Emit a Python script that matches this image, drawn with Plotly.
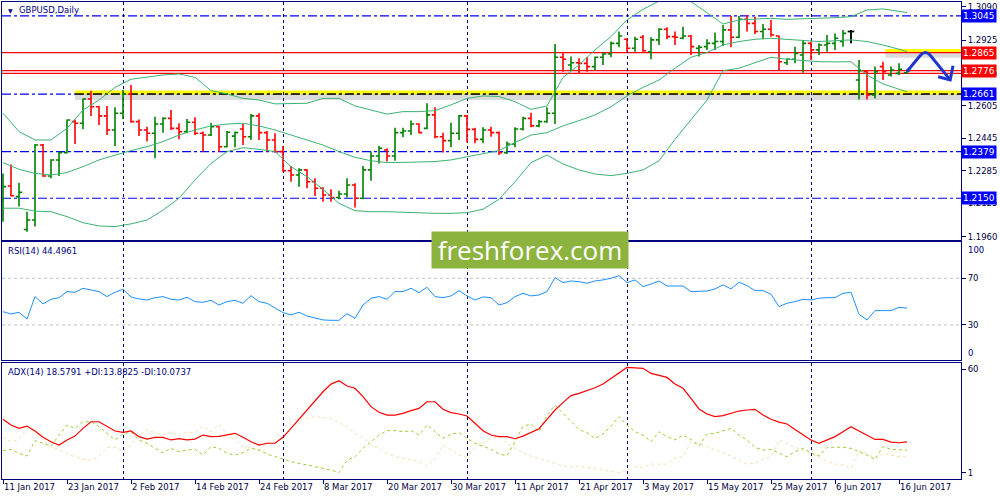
import plotly.graph_objects as go
from plotly.subplots import make_subplots

# ---- price bars, GBPUSD daily, 11 Jan 2017 .. 19 Jun 2017 ----
opens = [1.2141, 1.2210, 1.2158, 1.1997, 1.2043, 1.2411, 1.2259, 1.2338, 1.2374, 1.2526,
         1.2518, 1.2637, 1.2599, 1.2554, 1.2485, 1.2567, 1.2660, 1.2526, 1.2485, 1.2469,
         1.2514, 1.2542, 1.2493, 1.2477, 1.2523, 1.2469, 1.2460, 1.2501, 1.2403, 1.2455,
         1.2490, 1.2452, 1.2554, 1.2472, 1.2436, 1.2379, 1.2285, 1.2264, 1.2289, 1.2231,
         1.2199, 1.2166, 1.2154, 1.2171, 1.2215, 1.2150, 1.2289, 1.2357, 1.2387, 1.2357,
         1.2472, 1.2480, 1.2514, 1.2493, 1.2559, 1.2452, 1.2433, 1.2469, 1.2554, 1.2488,
         1.2439, 1.2485, 1.2472, 1.2374, 1.2416, 1.2490, 1.2542, 1.2505, 1.2526, 1.2567,
         1.2842, 1.2804, 1.2815, 1.2812, 1.2796, 1.2842, 1.2858, 1.2910, 1.2930, 1.2886,
         1.2940, 1.2869, 1.2927, 1.2979, 1.2943, 1.2935, 1.2946, 1.2886, 1.2894, 1.2910,
         1.2919, 1.2976, 1.2940, 1.3028, 1.3008, 1.2968, 1.2979, 1.2946, 1.2815, 1.2832,
         1.2853, 1.2910, 1.2878, 1.2902, 1.2910, 1.2919, 1.2968, 1.2730, 1.2771, 1.2657,
         1.2796, 1.2755, 1.2763, 1.2766]
highs = [1.2272, 1.2316, 1.2226, 1.2084, 1.2416, 1.2416, 1.2341, 1.2379, 1.2537, 1.2537,
         1.2640, 1.2678, 1.2603, 1.2603, 1.2596, 1.2681, 1.2706, 1.2537, 1.2501, 1.2550,
         1.2547, 1.2583, 1.2518, 1.2539, 1.2547, 1.2477, 1.2521, 1.2505, 1.2480, 1.2477,
         1.2514, 1.2563, 1.2567, 1.2480, 1.2469, 1.2406, 1.2308, 1.2297, 1.2292, 1.2248,
         1.2204, 1.2194, 1.2187, 1.2248, 1.2223, 1.2308, 1.2379, 1.2406, 1.2395, 1.2496,
         1.2496, 1.2531, 1.2518, 1.2616, 1.2596, 1.2472, 1.2521, 1.2559, 1.2559, 1.2496,
         1.2498, 1.2501, 1.2477, 1.2428, 1.2498, 1.2550, 1.2570, 1.2534, 1.2596, 1.2907,
         1.2865, 1.2845, 1.2837, 1.2842, 1.2845, 1.2865, 1.2919, 1.2968, 1.2935, 1.2943,
         1.2951, 1.2940, 1.2984, 1.2989, 1.2968, 1.2992, 1.2951, 1.2902, 1.2930, 1.2963,
         1.3000, 1.3044, 1.3044, 1.3049, 1.3041, 1.3005, 1.3025, 1.2948, 1.2837, 1.2894,
         1.2927, 1.2919, 1.2910, 1.2951, 1.2959, 1.2976, 1.2976, 1.2829, 1.2776, 1.2796,
         1.2820, 1.2796, 1.2812, 1.2783]
lows = [1.2035, 1.2158, 1.2109, 1.1986, 1.2011, 1.2256, 1.2248, 1.2259, 1.2370, 1.2416,
        1.2488, 1.2554, 1.2510, 1.2460, 1.2406, 1.2539, 1.2521, 1.2456, 1.2428, 1.2346,
        1.2472, 1.2485, 1.2439, 1.2469, 1.2460, 1.2379, 1.2456, 1.2379, 1.2400, 1.2400,
        1.2411, 1.2436, 1.2436, 1.2379, 1.2374, 1.2280, 1.2231, 1.2207, 1.2199, 1.2161,
        1.2133, 1.2133, 1.2145, 1.2154, 1.2105, 1.2145, 1.2236, 1.2321, 1.2330, 1.2334,
        1.2449, 1.2460, 1.2469, 1.2488, 1.2444, 1.2375, 1.2400, 1.2436, 1.2423, 1.2420,
        1.2420, 1.2452, 1.2362, 1.2367, 1.2400, 1.2482, 1.2498, 1.2498, 1.2521, 1.2514,
        1.2771, 1.2776, 1.2760, 1.2771, 1.2779, 1.2804, 1.2842, 1.2891, 1.2869, 1.2869,
        1.2869, 1.2832, 1.2902, 1.2930, 1.2902, 1.2930, 1.2853, 1.2845, 1.2878, 1.2878,
        1.2897, 1.2891, 1.2935, 1.2968, 1.2956, 1.2930, 1.2943, 1.2779, 1.2804, 1.2812,
        1.2766, 1.2829, 1.2853, 1.2869, 1.2878, 1.2894, 1.2910, 1.2635, 1.2635, 1.2640,
        1.2730, 1.2747, 1.2755, 1.2760]
closes = [1.2207, 1.2162, 1.2179, 1.2043, 1.2411, 1.2259, 1.2338, 1.2374, 1.2534, 1.2518,
          1.2637, 1.2599, 1.2554, 1.2485, 1.2567, 1.2660, 1.2526, 1.2485, 1.2469, 1.2514,
          1.2542, 1.2493, 1.2477, 1.2523, 1.2469, 1.2460, 1.2501, 1.2403, 1.2474, 1.2472,
          1.2452, 1.2554, 1.2472, 1.2436, 1.2379, 1.2285, 1.2264, 1.2289, 1.2231, 1.2199,
          1.2166, 1.2154, 1.2171, 1.2215, 1.2150, 1.2289, 1.2357, 1.2395, 1.2357, 1.2472,
          1.2480, 1.2514, 1.2472, 1.2559, 1.2452, 1.2433, 1.2469, 1.2554, 1.2488, 1.2439,
          1.2485, 1.2472, 1.2374, 1.2416, 1.2490, 1.2542, 1.2505, 1.2526, 1.2567, 1.2842,
          1.2832, 1.2815, 1.2812, 1.2796, 1.2842, 1.2858, 1.2910, 1.2946, 1.2886, 1.2930,
          1.2874, 1.2927, 1.2979, 1.2943, 1.2940, 1.2946, 1.2894, 1.2891, 1.2910, 1.2919,
          1.2976, 1.2940, 1.3028, 1.3008, 1.2968, 1.2979, 1.2951, 1.2820, 1.2832, 1.2861,
          1.2910, 1.2878, 1.2902, 1.2910, 1.2935, 1.2959, 1.2968, 1.2776, 1.2657, 1.2771,
          1.2771, 1.2779, 1.2783, 1.2776]
doji_bars = [106]

# ---- Bollinger bands (read every 2nd bar + last) ----
bb_idx = list(range(0, 113, 2)) + [113]
bb_upper = [1.2567, 1.2477, 1.2436, 1.2436, 1.2493, 1.2583, 1.2632, 1.2694, 1.2734, 1.2743,
            1.2755, 1.2760, 1.2743, 1.2678, 1.2662, 1.2640, 1.2632, 1.2613, 1.2613, 1.2616,
            1.2640, 1.2640, 1.2603, 1.2583, 1.2563, 1.2575, 1.2575, 1.2580, 1.2608, 1.2640,
            1.2652, 1.2649, 1.2624, 1.2586, 1.2603, 1.2743, 1.2804, 1.2878, 1.2943, 1.3025,
            1.3077, 1.3118, 1.3145, 1.3115, 1.3058, 1.3005, 1.3025, 1.3030, 1.3033, 1.3028,
            1.3030, 1.3033, 1.3036, 1.3041, 1.3074, 1.3079, 1.3069, 1.3061]
bb_mid = [1.2325, 1.2292, 1.2272, 1.2264, 1.2276, 1.2305, 1.2338, 1.2362, 1.2384, 1.2403,
          1.2428, 1.2460, 1.2485, 1.2505, 1.2514, 1.2518, 1.2505, 1.2485, 1.2460, 1.2436,
          1.2411, 1.2379, 1.2351, 1.2334, 1.2325, 1.2326, 1.2328, 1.2330, 1.2338, 1.2354,
          1.2367, 1.2384, 1.2423, 1.2460, 1.2472, 1.2505, 1.2531, 1.2559, 1.2599, 1.2652,
          1.2694, 1.2730, 1.2788, 1.2842, 1.2865, 1.2902, 1.2919, 1.2930, 1.2935, 1.2930,
          1.2923, 1.2919, 1.2923, 1.2927, 1.2919, 1.2902, 1.2881, 1.2869]
bb_lower = [1.2101, 1.2101, 1.2087, 1.2084, 1.2060, 1.2030, 1.2014, 1.2011, 1.2024, 1.2043,
            1.2092, 1.2150, 1.2240, 1.2321, 1.2379, 1.2398, 1.2390, 1.2379, 1.2305, 1.2256,
            1.2194, 1.2125, 1.2089, 1.2084, 1.2084, 1.2081, 1.2079, 1.2076, 1.2076, 1.2079,
            1.2096, 1.2145, 1.2231, 1.2325, 1.2362, 1.2318, 1.2289, 1.2269, 1.2261, 1.2272,
            1.2289, 1.2334, 1.2439, 1.2534, 1.2632, 1.2776, 1.2788, 1.2815, 1.2842, 1.2832,
            1.2825, 1.2820, 1.2819, 1.2820, 1.2755, 1.2711, 1.2685, 1.2673]

# ---- RSI(14) ----
rsi = [41.4, 39.4, 40.9, 35.1, 54.3, 48.0, 52.0, 53.4, 58.6, 58.0,
       61.4, 60.0, 58.6, 54.3, 58.0, 60.6, 54.0, 52.3, 51.4, 53.4,
       54.3, 52.0, 51.4, 53.7, 50.0, 49.4, 51.1, 47.1, 50.0, 51.1,
       48.6, 55.1, 50.0, 48.6, 44.9, 40.6, 38.6, 40.9, 37.7, 36.3,
       34.3, 34.0, 34.0, 39.7, 35.7, 47.1, 52.9, 54.3, 52.0, 58.6,
       58.6, 61.4, 57.7, 62.3, 54.3, 53.4, 54.9, 59.4, 54.9, 51.4,
       54.0, 53.4, 47.1, 49.1, 54.3, 57.1, 54.9, 55.7, 58.6, 70.6,
       66.3, 67.7, 67.1, 65.7, 67.7, 68.6, 70.0, 72.3, 66.3, 68.6,
       62.9, 65.1, 67.7, 63.4, 63.4, 63.4, 58.6, 58.6, 59.1, 60.9,
       64.3, 60.9, 66.6, 63.7, 59.4, 59.4, 56.3, 45.7, 48.6, 50.0,
       52.0, 51.4, 52.9, 53.4, 53.4, 57.1, 58.0, 39.1, 34.3, 42.3,
       42.3, 42.3, 45.1, 44.5]

# ---- ADX(14) ----
adx = [31.5, 28.2, 26.3, 27.6, 24.8, 21.2, 18.7, 16.8, 19.7, 21.9,
       26.3, 30.1, 30.1, 27.6, 24.8, 24.0, 24.8, 21.6, 20.2, 21.2,
       21.2, 19.7, 20.4, 19.7, 20.2, 22.5, 21.6, 21.7, 22.5, 23.5,
       21.2, 18.7, 16.8, 17.8, 17.8, 21.2, 26.3, 31.5, 36.8, 42.1,
       47.2, 51.6, 53.5, 50.5, 49.2, 44.4, 38.7, 35.5, 33.9, 33.9,
       34.9, 36.4, 37.7, 41.5, 41.5, 37.2, 35.3, 34.5, 33.4, 29.2,
       25.0, 22.5, 21.6, 21.6, 20.4, 21.9, 24.0, 26.1, 31.5, 36.8,
       41.0, 45.0, 46.3, 47.8, 49.5, 51.6, 54.9, 57.7, 61.1, 60.9,
       60.6, 57.7, 56.4, 55.4, 51.6, 49.2, 43.4, 37.4, 34.5, 33.0,
       33.6, 34.9, 36.2, 36.8, 37.2, 33.9, 31.5, 29.9, 28.8, 25.7,
       22.5, 19.7, 17.8, 19.7, 21.6, 24.4, 27.3, 24.8, 22.5, 20.0,
       20.0, 18.5, 18.1, 18.6]
plus_di = [13.6, 14.3, 12.0, 10.5, 19.3, 17.8, 16.2, 22.5, 28.2, 26.3,
           30.1, 30.1, 27.3, 23.5, 19.7, 23.1, 24.4, 19.7, 17.8, 14.9,
           12.4, 14.9, 13.0, 13.9, 14.3, 11.1, 15.9, 14.9, 12.0, 11.1,
           12.4, 14.9, 13.9, 11.7, 10.1, 8.6, 7.3, 6.3, 5.2, 4.4,
           3.5, 2.5, 1.0, 8.2, 10.1, 14.9, 18.7, 22.5, 25.0, 25.0,
           24.4, 25.0, 22.5, 28.2, 24.4, 20.6, 23.1, 23.8, 20.6, 17.8,
           16.2, 14.3, 11.7, 10.7, 18.7, 27.6, 28.8, 24.4, 33.9, 39.6,
           34.9, 30.1, 25.7, 23.8, 20.6, 23.1, 27.6, 33.0, 28.2, 24.4,
           22.5, 18.7, 24.4, 21.6, 19.7, 22.5, 20.0, 16.2, 23.1, 23.5,
           25.0, 26.3, 22.5, 19.7, 15.5, 13.9, 14.3, 12.0, 10.1, 13.0,
           14.9, 12.4, 10.5, 15.5, 15.5, 15.5, 14.9, 13.0, 11.1, 8.6,
           15.9, 14.3, 14.3, 13.9]
minus_di = [21.2, 18.7, 20.0, 26.3, 24.8, 19.7, 15.5, 14.3, 11.7, 10.1,
            8.6, 8.2, 10.1, 15.5, 15.5, 13.0, 16.8, 22.5, 25.4, 23.8,
            22.5, 24.4, 21.9, 24.4, 23.8, 27.6, 24.4, 28.2, 23.1, 19.7,
            15.9, 15.5, 13.9, 17.8, 20.0, 26.3, 30.1, 32.6, 32.0, 33.0,
            32.6, 32.0, 29.5, 27.3, 23.5, 21.2, 16.8, 14.9, 12.0, 10.1,
            9.2, 8.2, 7.3, 4.8, 8.6, 16.8, 13.9, 11.1, 9.8, 15.5,
            17.8, 20.6, 21.6, 17.8, 14.9, 12.4, 10.5, 9.2, 7.9, 6.3,
            4.8, 4.4, 4.8, 4.1, 3.3, 2.5, 1.6, 1.0, 2.2, 4.4,
            4.1, 5.9, 5.9, 5.9, 9.2, 10.1, 18.7, 17.8, 15.9, 14.3,
            12.4, 10.5, 8.2, 5.9, 6.3, 8.6, 10.1, 19.7, 17.4, 15.5,
            13.9, 11.7, 10.1, 7.3, 5.9, 5.4, 3.5, 13.6, 12.0, 9.2,
            12.0, 11.1, 10.1, 10.1]

# ---- axis labels / levels ----
date_idx = list(range(0, 113, 8))
date_labels = ["11 Jan 2017", "23 Jan 2017", "2 Feb 2017", "14 Feb 2017", "24 Feb 2017",
               "8 Mar 2017", "20 Mar 2017", "30 Mar 2017", "11 Apr 2017", "21 Apr 2017",
               "3 May 2017", "15 May 2017", "25 May 2017", "6 Jun 2017", "16 Jun 2017"]
month_starts = [15, 35, 58, 78, 101]
price_ticks = [1.3090, 1.2925, 1.2765, 1.2605, 1.2445, 1.2285, 1.2125, 1.1960]
blue_levels = [1.3045, 1.2661, 1.2379, 1.2150]
red_levels = [1.2865, 1.2776]
red_level_2 = 1.2763

NAVY = "#000080"
FONT = "DejaVu Sans"
bars = list(range(len(closes)))
X_RANGE = [-0.125, 119.75]

fig = make_subplots(rows=3, cols=1, shared_xaxes=True, vertical_spacing=0.005)

fig.add_trace(go.Ohlc(x=bars, open=opens, high=highs, low=lows, close=closes,
                      increasing=dict(line=dict(color="#008000", width=1.6)),
                      decreasing=dict(line=dict(color="#ff0000", width=1.6)),
                      tickwidth=0.4, hoverinfo="skip", showlegend=False), row=1, col=1)
fig.add_trace(go.Ohlc(x=[bars[i] for i in doji_bars],
                      open=[opens[i] for i in doji_bars], high=[highs[i] for i in doji_bars],
                      low=[lows[i] for i in doji_bars], close=[closes[i] for i in doji_bars],
                      increasing=dict(line=dict(color="black", width=1.6)),
                      decreasing=dict(line=dict(color="black", width=1.6)),
                      tickwidth=0.4, hoverinfo="skip", showlegend=False), row=1, col=1)

for band in (bb_upper, bb_mid, bb_lower):
    fig.add_trace(go.Scatter(x=bb_idx, y=band, mode="lines", showlegend=False,
                             line=dict(color="#3cb371", width=1), hoverinfo="skip"), row=1, col=1)

fig.add_trace(go.Scatter(x=bars, y=rsi, mode="lines", showlegend=False,
                         line=dict(color="#1e90ff", width=1), hoverinfo="skip"), row=2, col=1)

fig.add_trace(go.Scatter(x=bars, y=minus_di, mode="lines", showlegend=False,
                         line=dict(color="#f5deb3", width=1, dash="3px,3px"), hoverinfo="skip"), row=3, col=1)
fig.add_trace(go.Scatter(x=bars, y=plus_di, mode="lines", showlegend=False,
                         line=dict(color="#9acd32", width=1, dash="3px,3px"), hoverinfo="skip"), row=3, col=1)
fig.add_trace(go.Scatter(x=bars, y=adx, mode="lines", showlegend=False,
                         line=dict(color="#ff0000", width=1.2), hoverinfo="skip"), row=3, col=1)

# horizontal levels
shapes = []
for lv in blue_levels:
    shapes.append(dict(type="line", xref="x", yref="y", x0=X_RANGE[0], x1=X_RANGE[1], y0=lv, y1=lv,
                       line=dict(color="#0000ff", width=1.2, dash="dashdot"), layer="below"))
# yellow highlight at 1.2661 with shadow
shapes.append(dict(type="line", xref="x", yref="y", x0=9, x1=X_RANGE[1], y0=1.2647, y1=1.2647,
                   line=dict(color="rgba(90,90,90,0.22)", width=6), layer="below"))
shapes.append(dict(type="line", xref="x", yref="y", x0=9, x1=X_RANGE[1], y0=1.2669, y1=1.2669,
                   line=dict(color="#ffff00", width=4), layer="below"))
shapes.append(dict(type="line", xref="x", yref="y", x0=9, x1=X_RANGE[1], y0=1.2661, y1=1.2661,
                   line=dict(color="black", width=1.5, dash="dashdot"), layer="below"))
# yellow highlight at 1.2865
shapes.append(dict(type="line", xref="x", yref="y", x0=110.3, x1=X_RANGE[1], y0=1.2852, y1=1.2852,
                   line=dict(color="rgba(90,90,90,0.22)", width=5), layer="below"))
shapes.append(dict(type="line", xref="x", yref="y", x0=110.3, x1=X_RANGE[1], y0=1.2873, y1=1.2873,
                   line=dict(color="#ffff00", width=4), layer="below"))
for lv in red_levels + [red_level_2]:
    shapes.append(dict(type="line", xref="x", yref="y", x0=X_RANGE[0], x1=X_RANGE[1], y0=lv, y1=lv,
                       line=dict(color="#ff0000", width=1.3), layer="below"))
# RSI levels
for lv in (70, 30):
    shapes.append(dict(type="line", xref="x2", yref="y2", x0=X_RANGE[0], x1=X_RANGE[1], y0=lv, y1=lv,
                       line=dict(color="#c0c0c0", width=1, dash="3px,3px"), layer="below"))
# forecast arrow
shapes.append(dict(type="path", xref="x", yref="y",
                   path="M 113.0,1.2772 L 114.6,1.2848 Q 115.25,1.2880 115.9,1.2852 L 118.4,1.2731",
                   line=dict(color="#1f35d0", width=3)))
shapes.append(dict(type="path", xref="x", yref="y",
                   path="M 116.9,1.2746 L 118.4,1.2731 L 118.75,1.2800",
                   line=dict(color="#1f35d0", width=3)))

annotations = []
box_style = dict(xref="paper", x=1, xanchor="left", xshift=0, yref="y", showarrow=False,
                 font=dict(family=FONT, size=9, color="white"), borderpad=1)
for lv in blue_levels:
    annotations.append(dict(text=f"{lv:.4f}", y=lv, bgcolor="#0000ff", **box_style))
for lv in red_levels:
    annotations.append(dict(text=f"{lv:.4f}", y=lv, bgcolor="#ff0000", **box_style))

txt = dict(family=FONT, size=8.5, color=NAVY)
annotations += [
    dict(text="▼", xref="paper", x=0, xshift=4, yref="paper", y=1, yshift=-3,
         xanchor="left", yanchor="top", showarrow=False, font=dict(family=FONT, size=6, color=NAVY)),
    dict(text="GBPUSD,Daily", xref="paper", x=0, xshift=15, yref="paper", y=1, yshift=-1,
         xanchor="left", yanchor="top", showarrow=False, font=txt),
    dict(text="RSI(14) 44.4961", xref="paper", x=0, xshift=4, yref="y2 domain", y=1, yshift=-2,
         xanchor="left", yanchor="top", showarrow=False, font=txt),
    dict(text="ADX(14) 18.5791 +DI:13.8825 -DI:10.0737", xref="paper", x=0, xshift=4,
         yref="y3 domain", y=1, yshift=-2, xanchor="left", yanchor="top", showarrow=False, font=txt),
    dict(text="100", xref="paper", x=1, xshift=5, yref="y2", y=100, yanchor="top",
         xanchor="left", showarrow=False, font=txt),
    dict(text="0", xref="paper", x=1, xshift=5, yref="y2", y=0, yanchor="bottom",
         xanchor="left", showarrow=False, font=txt),
    dict(text="freshforex.com", xref="paper", x=0.5506, yref="paper", y=0.480,
         xanchor="center", yanchor="middle", showarrow=False, width=196, height=36,
         bgcolor="#8db33f", borderpad=0, font=dict(family="Open Sans", size=26, color="white")),
]

axis_common = dict(showline=True, mirror=True, linecolor=NAVY, linewidth=1, showgrid=False,
                   zeroline=False, range=X_RANGE, rangeslider=dict(visible=False), automargin=False,
                   minor=dict(tickvals=month_starts, showgrid=True, gridcolor=NAVY,
                              griddash="3px,3px", gridwidth=1, ticks=""))
y_common = dict(side="right", ticks="outside", ticklen=4, tickcolor=NAVY, automargin=False,
                showline=True, mirror=True, linecolor=NAVY, showgrid=False, zeroline=False,
                tickfont=dict(family=FONT, size=8.5, color="#000040"))
fig.update_layout(
    width=1000, height=500,
    margin=dict(l=2, r=39, t=2, b=21),
    paper_bgcolor="white", plot_bgcolor="white",
    showlegend=False,
    shapes=shapes, annotations=annotations,
    xaxis=dict(axis_common, showticklabels=False, ticks=""),
    xaxis2=dict(axis_common, showticklabels=False, ticks=""),
    xaxis3=dict(axis_common, tickvals=date_idx, ticktext=date_labels, ticks="outside",
                ticklen=4, tickcolor=NAVY, ticklabelposition="outside right", tickangle=0,
                tickfont=dict(family=FONT, size=8.5, color="#000040")),
    yaxis=dict(y_common, domain=[0.501, 1.0], range=[1.1945, 1.3113], tickvals=price_ticks,
               tickformat=".4f"),
    yaxis2=dict(y_common, domain=[0.2495, 0.4969], range=[0, 101.1], tickvals=[70, 30]),
    yaxis3=dict(y_common, domain=[0, 0.2438], range=[-2.6, 63.8], tickvals=[60, 1]),
)

fig.write_html("out.html", config={"displayModeBar": False},
               post_script="document.body.style.margin='0';")
